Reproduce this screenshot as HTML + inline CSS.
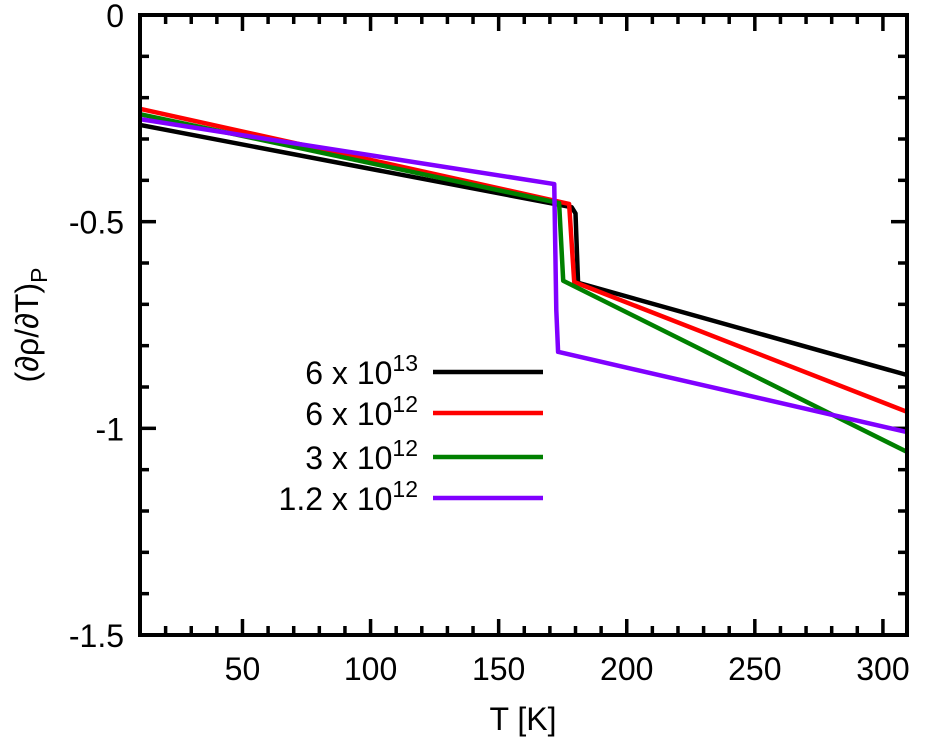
<!DOCTYPE html>
<html><head><meta charset="utf-8"><style>
body{margin:0;background:#fff}
svg{display:block;font-family:"Liberation Sans",sans-serif}
</style></head><body>
<svg id="chart" width="925" height="749" xmlns="http://www.w3.org/2000/svg">
<g id="ticks"></g>
<g id="series"></g>
<rect x="140" y="15" width="767" height="620" fill="none" stroke="#000" stroke-width="4"/>
<text x="523" y="730" font-size="32" text-anchor="middle">T [K]</text>
<text transform="translate(38,325) rotate(-90)" font-size="32" text-anchor="middle">(∂ρ/∂T)<tspan font-size="23" dy="9">P</tspan></text>
<g id="legend"></g>
</svg>
<script>
const seriesNames = ["6 x 10|13","6 x 10|12","3 x 10|12","1.2 x 10|12"];
const seriesColors = ["#000000","#ff0000","#008000","#8000ff"];
const blackT = [10,178.5,180,181,309.4];
const blackV = [-0.266,-0.465,-0.48,-0.648,-0.871];
const redT = [10,177.5,179.5,309.4];
const redV = [-0.227,-0.457,-0.646,-0.96];
const greenT = [10,173.6,175.2,309.4];
const greenV = [-0.24,-0.455,-0.643,-1.057];
const purpleT = [10,171.7,172.5,173.2,309.4];
const purpleV = [-0.252,-0.409,-0.714,-0.815,-1.009];
const xTicks = [50,100,150,200,250,300];
const yTicks = [0,-0.5,-1,-1.5];
const yTickLabels = ["0","-0.5","-1","-1.5"];

const X0=140,X1=907,Y0=15,Y1=635,TMIN=10,TMAX=309.4,VMAX=0,VMIN=-1.5;
const sx=t=>X0+(t-TMIN)/(TMAX-TMIN)*(X1-X0);
const sy=v=>Y0+(VMAX-v)/(VMAX-VMIN)*(Y1-Y0);
const NS="http://www.w3.org/2000/svg";
function mk(tag,attrs,parent){const e=document.createElementNS(NS,tag);for(const k in attrs)e.setAttribute(k,attrs[k]);parent.appendChild(e);return e;}
const tg=document.getElementById('ticks');
for(let t=10;t<=309;t+=10){const x=sx(t);const major=t%50===0;const L=major?16:9;
 const a=mk('line',{x1:x,x2:x,y1:Y1,y2:Y1-L,stroke:'#000','stroke-width':3.5},tg);
 
 const b=mk('line',{x1:x,x2:x,y1:Y0,y2:Y0+L,stroke:'#000','stroke-width':3.5},tg);
 }
xTicks.forEach(t=>{const e=mk('text',{x:sx(t),y:680,'font-size':32,'text-anchor':'middle'},tg);e.textContent=t;
 });
for(let i=0;i<=15;i++){const v=-i/10;const y=sy(v);const major=i%5===0;const L=major?16:9;
 const a=mk('line',{x1:X0,x2:X0+L,y1:y,y2:y,stroke:'#000','stroke-width':3.5},tg);
 
 const b=mk('line',{x1:X1,x2:X1-L,y1:y,y2:y,stroke:'#000','stroke-width':3.5},tg);
 }
yTicks.forEach((v,i)=>{const e=mk('text',{x:124,y:sy(v)+12,'font-size':32,'text-anchor':'end'},tg);e.textContent=yTickLabels[i];
 });
const data=[[blackT,blackV],[redT,redV],[greenT,greenV],[purpleT,purpleV]];
const sg=document.getElementById('series');
data.forEach((d,i)=>{const pts=d[0].map((t,j)=>sx(t)+','+sy(d[1][j])).join(' ');
 const p=mk('polyline',{points:pts,fill:'none',stroke:seriesColors[i],'stroke-width':4.5,'stroke-linejoin':'round'},sg);
 });
const lg=document.getElementById('legend');
const ly=[372,413,457,498];
seriesNames.forEach((n,i)=>{const [base,exp]=n.split('|');
 const t=mk('text',{x:418,y:ly[i]+12,'font-size':32,'text-anchor':'end'},lg);
 
 t.appendChild(document.createTextNode(base));
 const s=mk('tspan',{'font-size':23,dy:-13},t);s.textContent=exp;
 const l=mk('line',{x1:433,x2:543,y1:ly[i],y2:ly[i],stroke:seriesColors[i],'stroke-width':4.5},lg);
 });
</script>
</body></html>
